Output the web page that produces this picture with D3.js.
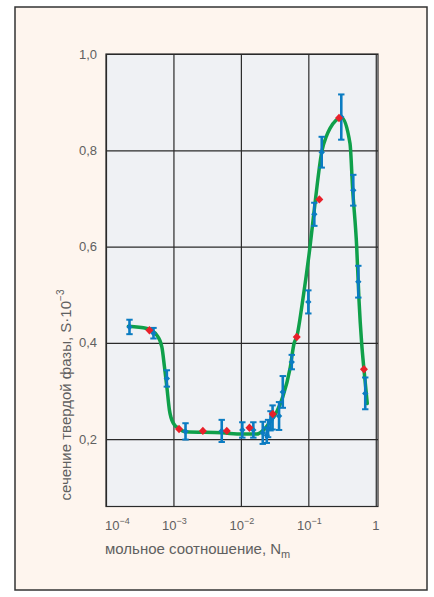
<!DOCTYPE html>
<html>
<head>
<meta charset="utf-8">
<script src="https://cdn.jsdelivr.net/npm/d3@7"></script>
<style>
  html, body { margin: 0; padding: 0; background: #ffffff; }
  svg { display: block; }
  text { font-family: "Liberation Sans", Arial, sans-serif; fill: #606060; }
</style>
</head>
<body>
<svg id="chart" width="434" height="597"></svg>
<script>
// Measured points with error bars (blue)
const nBlue = [2.23e-4, 5.06e-4, 7.98e-4, 1.51e-3, 5.2e-3, 1.05e-2, 1.53e-2, 2.11e-2, 2.42e-2, 2.53e-2,
               2.75e-2, 2.95e-2, 3.68e-2, 4.18e-2, 5.68e-2, 0.100, 0.1227, 0.158, 0.308, 0.464, 0.551, 0.698];
const sBlue = [0.433, 0.420, 0.326, 0.216, 0.217, 0.219, 0.219, 0.213, 0.208, 0.222,
               0.238, 0.245, 0.248, 0.298, 0.360, 0.485, 0.667, 0.796, 0.869, 0.717, 0.527, 0.295];
const eBlue = [0.015, 0.011, 0.017, 0.017, 0.023, 0.016, 0.016, 0.023, 0.016, 0.018,
               0.020, 0.025, 0.029, 0.033, 0.015, 0.024, 0.024, 0.032, 0.047, 0.032, 0.033, 0.033];

// Calculated points (red)
const nRed = [4.4e-4, 1.21e-3, 2.73e-3, 6.18e-3, 1.34e-2, 0.0297, 0.0673, 0.1456, 0.285, 0.668];
const sRed = [0.426, 0.221, 0.217, 0.217, 0.2235, 0.252, 0.412, 0.698, 0.867, 0.345];

// Fitted curve (green)
const nCurve = [2.15e-4, 4.04e-4, 5.67e-4, 6.73e-4, 7.36e-4, 7.98e-4, 8.72e-4, 1.0e-3, 1.19e-3, 1.51e-3,
                5.21e-3, 1.05e-2, 1.72e-2, 2.16e-2, 2.71e-2, 3.40e-2, 4.18e-2, 5.36e-2, 6.14e-2, 6.73e-2,
                8.26e-2, 0.106, 0.1256, 0.158, 0.1875, 0.2096, 0.3126, 0.415, 0.455, 0.521,
                0.564, 0.618, 0.668, 0.748];
const sCurve = [0.4346, 0.4298, 0.4159, 0.3916, 0.350, 0.3086, 0.2602, 0.2326, 0.2222, 0.2152,
                0.2131, 0.2104, 0.2104, 0.2187, 0.2359, 0.2567, 0.2878, 0.3468, 0.3987, 0.4124,
                0.4886, 0.600, 0.690, 0.7964, 0.831, 0.8456, 0.8678, 0.8139, 0.717, 0.600,
                0.4886, 0.3987, 0.3447, 0.274];

const xTicks = [1e-4, 1e-3, 1e-2, 1e-1, 1];
const xTickLabels = [["10", "−4"], ["10", "−3"], ["10", "−2"], ["10", "−1"], ["1", ""]];
const yTicks = [0.2, 0.4, 0.6, 0.8, 1.0];
const yTickLabels = ["0,2", "0,4", "0,6", "0,8", "1,0"];

const svg = d3.select("#chart");

// outer frame
svg.append("rect")
  .attr("x", 15).attr("y", 7).attr("width", 412).attr("height", 583)
  .attr("fill", "#fef5ee").attr("stroke", "#333").attr("stroke-width", 1.5);

const pLeft = 106, pRight = 378, pTop = 54, pBottom = 506.5;
const x = d3.scaleLog().domain([1e-4, Math.pow(10, 0.033)]).range([pLeft, pRight]);
const y = d3.scaleLinear().domain([0.06, 1.0]).range([pBottom, pTop]);

// plot area
svg.append("rect")
  .attr("x", pLeft).attr("y", pTop).attr("width", pRight - pLeft).attr("height", pBottom - pTop)
  .attr("fill", "#eff1f4");

// grid via axes
const gx = svg.append("g").attr("transform", `translate(0,${pBottom})`)
  .call(d3.axisBottom(x).tickValues(xTicks).tickSize(-(pBottom - pTop)).tickFormat(""));
const gy = svg.append("g").attr("transform", `translate(${pLeft},0)`)
  .call(d3.axisLeft(y).tickValues(yTicks).tickSize(-(pRight - pLeft)).tickFormat(""));
[gx, gy].forEach(g => {
  g.select(".domain").remove();
  g.selectAll(".tick line").attr("stroke", "#2a2a2a").attr("stroke-width", 1.2);
});

// plot border
svg.append("rect")
  .attr("x", pLeft).attr("y", pTop).attr("width", pRight - pLeft).attr("height", pBottom - pTop)
  .attr("fill", "none").attr("stroke", "#2a2a2a").attr("stroke-width", 1.2);

// y tick labels
svg.append("g").selectAll("text").data(yTicks).join("text")
  .attr("x", 97).attr("y", d => y(d) + 4.5)
  .attr("text-anchor", "end").attr("font-size", 13)
  .text((d, i) => yTickLabels[i]);

// x tick labels with superscripts
const xl = svg.append("g").selectAll("text").data(xTicks).join("text")
  .attr("x", (d, i) => i === 0 ? pLeft - 1 : x(d) + (i === 4 ? 0 : 1))
  .attr("y", 530)
  .attr("text-anchor", (d, i) => i === 0 ? "start" : "middle")
  .attr("font-size", 13);
xl.append("tspan").text((d, i) => xTickLabels[i][0]);
xl.append("tspan").attr("font-size", 9).attr("dy", -6).text((d, i) => xTickLabels[i][1]);

// axis titles
const xt = svg.append("text").attr("x", 105).attr("y", 554).attr("font-size", 15);
xt.append("tspan").text("мольное соотношение, N");
xt.append("tspan").attr("font-size", 11).attr("dy", 4).text("m");

const yt = svg.append("text")
  .attr("transform", "translate(71,395) rotate(-90)")
  .attr("text-anchor", "middle").attr("font-size", 15);
yt.append("tspan").text("сечение твердой фазы, S·10");
yt.append("tspan").attr("font-size", 10).attr("dy", -7).text("−3");

// curve
const curvePts = nCurve.map((n, i) => [x(n), y(sCurve[i])]);
svg.append("path")
  .attr("d", d3.line().curve(d3.curveMonotoneX)(curvePts))
  .attr("fill", "none").attr("stroke", "#0fa04a").attr("stroke-width", 3.5)
  .attr("stroke-linecap", "round");

// square-ish diamond marker
const rhomb = (w, h) => ({
  draw(ctx) {
    ctx.moveTo(0, -h); ctx.lineTo(w, 0); ctx.lineTo(0, h); ctx.lineTo(-w, 0); ctx.closePath();
  }
});

// error bars
const blue = "#0b7cc2";
const eb = svg.append("g");
nBlue.forEach((n, i) => {
  const cx = x(n), y0 = y(sBlue[i] - eBlue[i]), y1 = y(sBlue[i] + eBlue[i]);
  eb.append("line").attr("x1", cx).attr("x2", cx).attr("y1", y0).attr("y2", y1)
    .attr("stroke", blue).attr("stroke-width", 2.6);
  [y0, y1].forEach(yy => eb.append("line")
    .attr("x1", cx - 3.2).attr("x2", cx + 3.2).attr("y1", yy).attr("y2", yy)
    .attr("stroke", blue).attr("stroke-width", 2));
  eb.append("path")
    .attr("d", d3.symbol(rhomb(3.2, 3.2))())
    .attr("transform", `translate(${cx},${y(sBlue[i])})`)
    .attr("fill", blue);
});

// red points
svg.append("g").selectAll("path").data(nRed).join("path")
  .attr("d", d3.symbol(rhomb(4, 4.2))())
  .attr("transform", (d, i) => `translate(${x(d)},${y(sRed[i])})`)
  .attr("fill", "#e8202a");
</script>
</body>
</html>
